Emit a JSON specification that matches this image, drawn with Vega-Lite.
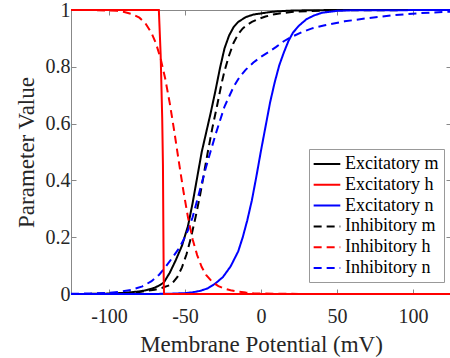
{
  "$schema": "https://vega.github.io/schema/vega-lite/v6.json",
  "width": 380,
  "height": 284,
  "autosize": {"type": "none"},
  "padding": {"left": 71, "top": 10, "right": 0, "bottom": 64},
  "config": {
    "font": "Liberation Serif",
    "view": {"stroke": "#888", "strokeWidth": 1},
    "axis": {
      "grid": false, "domain": false, "tickColor": "#888", "tickSize": -5,
      "labelFont": "Liberation Serif", "titleFont": "Liberation Serif",
      "labelFontSize": 20, "titleFontSize": 23, "titleFontWeight": "normal",
      "labelColor": "#262626", "titleColor": "#262626"
    },
    "legend": {
      "labelFont": "Liberation Serif", "labelFontSize": 18, "labelColor": "#000",
      "strokeColor": "#999", "fillColor": "#fff", "padding": 5,
      "symbolType": "M-1.15,0H1.81", "symbolSize": 324, "symbolStrokeWidth": 2,
      "labelOffset": 11, "rowPadding": 1.8, "labelLimit": 0
    }
  },
  "data": {"values": [
    {"s":"Excitatory m","x":-125,"y":0.0001},{"s":"Excitatory m","x":-110,"y":0.0005},{"s":"Excitatory m","x":-100,"y":0.0015},{"s":"Excitatory m","x":-90,"y":0.004},{"s":"Excitatory m","x":-80,"y":0.009},{"s":"Excitatory m","x":-75,"y":0.014},{"s":"Excitatory m","x":-70,"y":0.022},{"s":"Excitatory m","x":-67,"y":0.03},{"s":"Excitatory m","x":-64,"y":0.04},{"s":"Excitatory m","x":-60,"y":0.075},{"s":"Excitatory m","x":-56,"y":0.12},{"s":"Excitatory m","x":-52,"y":0.17},{"s":"Excitatory m","x":-48,"y":0.24},{"s":"Excitatory m","x":-45,"y":0.32},{"s":"Excitatory m","x":-42,"y":0.41},{"s":"Excitatory m","x":-39,"y":0.5},{"s":"Excitatory m","x":-36,"y":0.57},{"s":"Excitatory m","x":-33,"y":0.64},{"s":"Excitatory m","x":-30,"y":0.715},{"s":"Excitatory m","x":-27,"y":0.795},{"s":"Excitatory m","x":-24,"y":0.865},{"s":"Excitatory m","x":-21,"y":0.91},{"s":"Excitatory m","x":-18,"y":0.94},{"s":"Excitatory m","x":-15,"y":0.958},{"s":"Excitatory m","x":-10,"y":0.975},{"s":"Excitatory m","x":-5,"y":0.984},{"s":"Excitatory m","x":0,"y":0.988},{"s":"Excitatory m","x":5,"y":0.992},{"s":"Excitatory m","x":10,"y":0.995},{"s":"Excitatory m","x":20,"y":0.998},{"s":"Excitatory m","x":30,"y":0.999},{"s":"Excitatory m","x":50,"y":1},{"s":"Excitatory m","x":125,"y":1},

    {"s":"Inhibitory m","x":-125,"y":0},{"s":"Inhibitory m","x":-110,"y":0.0003},{"s":"Inhibitory m","x":-100,"y":0.001},{"s":"Inhibitory m","x":-90,"y":0.003},{"s":"Inhibitory m","x":-80,"y":0.007},{"s":"Inhibitory m","x":-70,"y":0.015},{"s":"Inhibitory m","x":-65,"y":0.022},{"s":"Inhibitory m","x":-60,"y":0.031},{"s":"Inhibitory m","x":-58,"y":0.04},{"s":"Inhibitory m","x":-55,"y":0.06},{"s":"Inhibitory m","x":-52,"y":0.094},{"s":"Inhibitory m","x":-49,"y":0.14},{"s":"Inhibitory m","x":-46,"y":0.2},{"s":"Inhibitory m","x":-43,"y":0.272},{"s":"Inhibitory m","x":-40,"y":0.35},{"s":"Inhibitory m","x":-37,"y":0.44},{"s":"Inhibitory m","x":-35,"y":0.5},{"s":"Inhibitory m","x":-32,"y":0.585},{"s":"Inhibitory m","x":-29,"y":0.66},{"s":"Inhibitory m","x":-26,"y":0.74},{"s":"Inhibitory m","x":-24,"y":0.785},{"s":"Inhibitory m","x":-21,"y":0.84},{"s":"Inhibitory m","x":-18,"y":0.885},{"s":"Inhibitory m","x":-15,"y":0.915},{"s":"Inhibitory m","x":-12,"y":0.935},{"s":"Inhibitory m","x":-9,"y":0.948},{"s":"Inhibitory m","x":-6,"y":0.958},{"s":"Inhibitory m","x":-2,"y":0.968},{"s":"Inhibitory m","x":3,"y":0.977},{"s":"Inhibitory m","x":8,"y":0.984},{"s":"Inhibitory m","x":12,"y":0.988},{"s":"Inhibitory m","x":20,"y":0.993},{"s":"Inhibitory m","x":30,"y":0.996},{"s":"Inhibitory m","x":50,"y":0.999},{"s":"Inhibitory m","x":125,"y":1},

    {"s":"Inhibitory n","x":-125,"y":0.0005},{"s":"Inhibitory n","x":-110,"y":0.002},{"s":"Inhibitory n","x":-100,"y":0.004},{"s":"Inhibitory n","x":-93,"y":0.008},{"s":"Inhibitory n","x":-85,"y":0.015},{"s":"Inhibitory n","x":-78,"y":0.027},{"s":"Inhibitory n","x":-72,"y":0.045},{"s":"Inhibitory n","x":-67,"y":0.068},{"s":"Inhibitory n","x":-63,"y":0.094},{"s":"Inhibitory n","x":-58,"y":0.13},{"s":"Inhibitory n","x":-54,"y":0.16},{"s":"Inhibitory n","x":-51,"y":0.19},{"s":"Inhibitory n","x":-48,"y":0.225},{"s":"Inhibitory n","x":-45,"y":0.27},{"s":"Inhibitory n","x":-42,"y":0.33},{"s":"Inhibitory n","x":-39,"y":0.39},{"s":"Inhibitory n","x":-36,"y":0.45},{"s":"Inhibitory n","x":-33,"y":0.505},{"s":"Inhibitory n","x":-30,"y":0.56},{"s":"Inhibitory n","x":-27,"y":0.61},{"s":"Inhibitory n","x":-24,"y":0.66},{"s":"Inhibitory n","x":-21,"y":0.695},{"s":"Inhibitory n","x":-18,"y":0.73},{"s":"Inhibitory n","x":-14,"y":0.765},{"s":"Inhibitory n","x":-10,"y":0.79},{"s":"Inhibitory n","x":-5,"y":0.815},{"s":"Inhibitory n","x":0,"y":0.835},{"s":"Inhibitory n","x":5,"y":0.852},{"s":"Inhibitory n","x":10,"y":0.87},{"s":"Inhibitory n","x":15,"y":0.89},{"s":"Inhibitory n","x":20,"y":0.905},{"s":"Inhibitory n","x":27,"y":0.922},{"s":"Inhibitory n","x":34,"y":0.936},{"s":"Inhibitory n","x":42,"y":0.946},{"s":"Inhibitory n","x":55,"y":0.96},{"s":"Inhibitory n","x":70,"y":0.971},{"s":"Inhibitory n","x":88,"y":0.982},{"s":"Inhibitory n","x":105,"y":0.989},{"s":"Inhibitory n","x":125,"y":0.994},

    {"s":"Excitatory n","x":-125,"y":0},{"s":"Excitatory n","x":-70,"y":0.0002},{"s":"Excitatory n","x":-60,"y":0.001},{"s":"Excitatory n","x":-50,"y":0.003},{"s":"Excitatory n","x":-45,"y":0.006},{"s":"Excitatory n","x":-40,"y":0.011},{"s":"Excitatory n","x":-35,"y":0.02},{"s":"Excitatory n","x":-30,"y":0.037},{"s":"Excitatory n","x":-25,"y":0.06},{"s":"Excitatory n","x":-20,"y":0.097},{"s":"Excitatory n","x":-15,"y":0.15},{"s":"Excitatory n","x":-12,"y":0.2},{"s":"Excitatory n","x":-9,"y":0.26},{"s":"Excitatory n","x":-6,"y":0.33},{"s":"Excitatory n","x":-3,"y":0.415},{"s":"Excitatory n","x":0,"y":0.505},{"s":"Excitatory n","x":3,"y":0.59},{"s":"Excitatory n","x":6,"y":0.675},{"s":"Excitatory n","x":9,"y":0.745},{"s":"Excitatory n","x":12,"y":0.805},{"s":"Excitatory n","x":15,"y":0.85},{"s":"Excitatory n","x":18,"y":0.89},{"s":"Excitatory n","x":21,"y":0.92},{"s":"Excitatory n","x":25,"y":0.945},{"s":"Excitatory n","x":30,"y":0.968},{"s":"Excitatory n","x":35,"y":0.981},{"s":"Excitatory n","x":40,"y":0.99},{"s":"Excitatory n","x":50,"y":0.997},{"s":"Excitatory n","x":60,"y":0.999},{"s":"Excitatory n","x":125,"y":1},

    {"s":"Inhibitory h","x":-125,"y":1},{"s":"Inhibitory h","x":-110,"y":0.9996},{"s":"Inhibitory h","x":-100,"y":0.998},{"s":"Inhibitory h","x":-95,"y":0.997},{"s":"Inhibitory h","x":-90,"y":0.993},{"s":"Inhibitory h","x":-85,"y":0.986},{"s":"Inhibitory h","x":-80,"y":0.973},{"s":"Inhibitory h","x":-76,"y":0.953},{"s":"Inhibitory h","x":-72,"y":0.919},{"s":"Inhibitory h","x":-69,"y":0.881},{"s":"Inhibitory h","x":-66,"y":0.828},{"s":"Inhibitory h","x":-63,"y":0.758},{"s":"Inhibitory h","x":-60,"y":0.671},{"s":"Inhibitory h","x":-57,"y":0.571},{"s":"Inhibitory h","x":-54,"y":0.464},{"s":"Inhibitory h","x":-51,"y":0.361},{"s":"Inhibitory h","x":-48,"y":0.269},{"s":"Inhibitory h","x":-45,"y":0.193},{"s":"Inhibitory h","x":-42,"y":0.137},{"s":"Inhibitory h","x":-39,"y":0.095},{"s":"Inhibitory h","x":-36,"y":0.066},{"s":"Inhibitory h","x":-32,"y":0.042},{"s":"Inhibitory h","x":-28,"y":0.028},{"s":"Inhibitory h","x":-24,"y":0.019},{"s":"Inhibitory h","x":-20,"y":0.013},{"s":"Inhibitory h","x":-15,"y":0.008},{"s":"Inhibitory h","x":-10,"y":0.005},{"s":"Inhibitory h","x":-5,"y":0.003},{"s":"Inhibitory h","x":0,"y":0.002},{"s":"Inhibitory h","x":10,"y":0.001},{"s":"Inhibitory h","x":25,"y":0.0003},{"s":"Inhibitory h","x":50,"y":0},{"s":"Inhibitory h","x":125,"y":0},

    {"s":"Excitatory h","x":-125,"y":1},{"s":"Excitatory h","x":-67.2,"y":1},{"s":"Excitatory h","x":-66,"y":0.84},{"s":"Excitatory h","x":-65,"y":0.62},{"s":"Excitatory h","x":-64.5,"y":0.45},{"s":"Excitatory h","x":-64.2,"y":0.2},{"s":"Excitatory h","x":-64,"y":0.05},{"s":"Excitatory h","x":-63.8,"y":0},{"s":"Excitatory h","x":125,"y":0}
  ]},
  "layer": [
    {
      "mark": {"type": "line", "strokeWidth": 2, "clip": false},
      "encoding": {
        "x": {"field": "x", "type": "quantitative",
              "scale": {"domain": [-125, 125], "nice": false, "zero": false},
              "axis": {"values": [-100, -50, 0, 50, 100], "labelExpr": "'' + datum.value",
                       "title": "Membrane Potential (mV)", "labelPadding": 17, "titlePadding": 7}},
        "y": {"field": "y", "type": "quantitative",
              "scale": {"domain": [0, 1], "nice": false},
              "axis": {"values": [0, 0.2, 0.4, 0.6, 0.8, 1], "format": "~g",
                       "title": "Parameter Value", "labelPadding": 6, "titlePadding": 7}},
        "color": {"field": "s", "type": "nominal",
                  "scale": {"domain": ["Excitatory m", "Excitatory h", "Excitatory n", "Inhibitory m", "Inhibitory h", "Inhibitory n"],
                            "range": ["#000000", "#ff0000", "#0000ff", "#000000", "#ff0000", "#0000ff"]},
                  "legend": {"title": null, "orient": "none", "legendX": 238, "legendY": 139}},
        "strokeDash": {"field": "s", "type": "nominal",
                  "scale": {"domain": ["Excitatory m", "Excitatory h", "Excitatory n", "Inhibitory m", "Inhibitory h", "Inhibitory n"],
                            "range": [[1, 0], [1, 0], [1, 0], [8, 5], [8, 5], [8, 5]]},
                  "legend": {"title": null, "orient": "none", "legendX": 238, "legendY": 139}}
      }
    },
    {
      "mark": {"type": "line", "opacity": 0},
      "encoding": {
        "x": {"field": "x", "type": "quantitative",
              "scale": {"domain": [-125, 125], "nice": false, "zero": false},
              "axis": {"orient": "top", "values": [-100, -50, 0, 50, 100], "labels": false, "title": null}},
        "y": {"field": "y", "type": "quantitative",
              "scale": {"domain": [0, 1], "nice": false},
              "axis": {"orient": "right", "values": [0, 0.2, 0.4, 0.6, 0.8, 1], "labels": false, "title": null}}
      }
    }
  ],
  "resolve": {"axis": {"x": "independent", "y": "independent"}}
}
